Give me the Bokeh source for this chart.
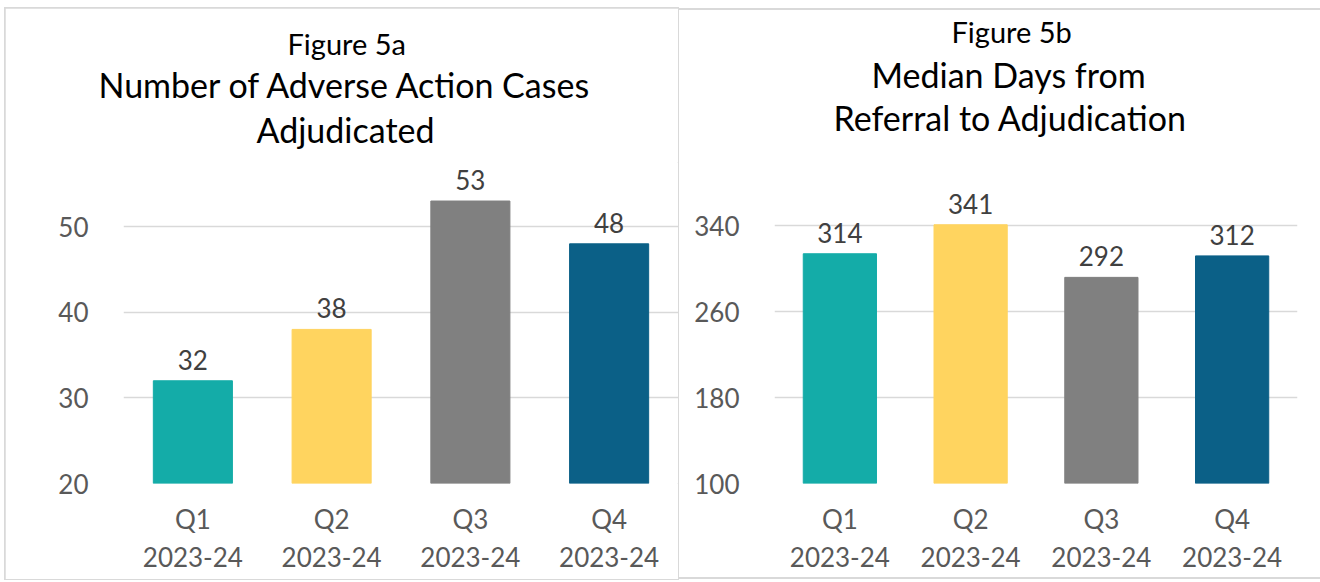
from bokeh.plotting import figure
from bokeh.models import ColumnDataSource, LabelSet, Title, Range1d, FactorRange, FixedTicker
from bokeh.layouts import row
from bokeh.core.properties import value
from bokeh.embed import file_html
from bokeh.resources import INLINE

quarters = ["Q1\n2023-24", "Q2\n2023-24", "Q3\n2023-24", "Q4\n2023-24"]
cases = [32, 38, 53, 48]
median_days = [314, 341, 292, 312]
colors = ["#14ACA8", "#FFD45F", "#808080", "#0B6087"]
ticks_a = [20, 30, 40, 50]
ticks_b = [100, 180, 260, 340]

FONT = "Lato"
TICK_COLOR = "#595959"
GRID = "#D9D9D9"


def make_panel(values, ticks, y0, y1, width, margin, min_left, min_right, min_bottom,
               bar_w, spacer, titles, styles, border_fill):
    src = ColumnDataSource(dict(q=quarters, v=values, c=colors,
                                lbl=[str(v) for v in values]))
    p = figure(x_range=FactorRange(*quarters), y_range=Range1d(y0, y1),
               width=width, height=571, output_backend="svg", toolbar_location=None,
               min_border_left=min_left, min_border_right=min_right,
               min_border_top=152, min_border_bottom=min_bottom, margin=margin,
               styles=styles)
    p.vbar(x="q", top="v", bottom=y0, width=bar_w, color="c", source=src)
    p.add_layout(LabelSet(x="q", y="v", text="lbl", source=src, y_offset=11,
                          text_align="center", text_baseline="alphabetic",
                          text_font=value(FONT), text_font_size="26px",
                          text_color="#404040"))
    p.outline_line_color = None
    p.xgrid.grid_line_color = None
    p.ygrid.grid_line_color = GRID
    p.ygrid.grid_line_width = 1.5
    p.yaxis.ticker = FixedTicker(ticks=ticks)
    for ax in (p.xaxis, p.yaxis):
        ax.axis_line_color = None
        ax.major_tick_line_color = None
        ax.minor_tick_line_color = None
        ax.major_tick_out = 0
        ax.major_tick_in = 0
        ax.major_label_text_font = FONT
        ax.major_label_text_font_size = "26px"
        ax.major_label_text_color = TICK_COLOR
    p.yaxis.major_label_standoff = 35
    p.xaxis.major_label_standoff = 19
    p.background_fill_color = "white"
    p.border_fill_color = border_fill
    # blank spacer between the frame and the titles
    p.add_layout(Title(text=" ", text_font_size="2px", standoff=spacer), "above")
    # titles listed from the frame outward
    for (txt, size, standoff, offset) in titles:
        p.add_layout(Title(text=txt, align="left", offset=offset,
                           standoff=standoff, text_font=FONT, text_font_size=size,
                           text_font_style="normal", text_color="#000000"), "above")
    return p


p1 = make_panel(cases, ticks_a, 20, 57.5, 673, (8, 0, 3, 5), 118, 0, 93, 0.57, 8,
                [("Adjudicated", "34px", 2, 133),
                 ("Number of Adverse Action Cases", "34px", 2, -25),
                 ("Figure 5a", "29px", 0, 164)],
                {"outline": "2px solid #D9D9D9", "outline-offset": "-1px"}, "white")
p2 = make_panel(median_days, ticks_b, 100, 399, 642, (8, 0, 3, 0), 96, 23, 96, 0.56, 21,
                [("Referral to Adjudication", "34px", 0, 59),
                 ("Median Days from", "34px", 0, 97),
                 ("Figure 5b", "29px", 6, 177)],
                {"box-shadow": "inset 0 2px 0 #D9D9D9, inset 0 -2px 0 #D9D9D9"}, None)

layout = row(p1, p2)
open("out.html", "w").write(file_html(layout, INLINE))
